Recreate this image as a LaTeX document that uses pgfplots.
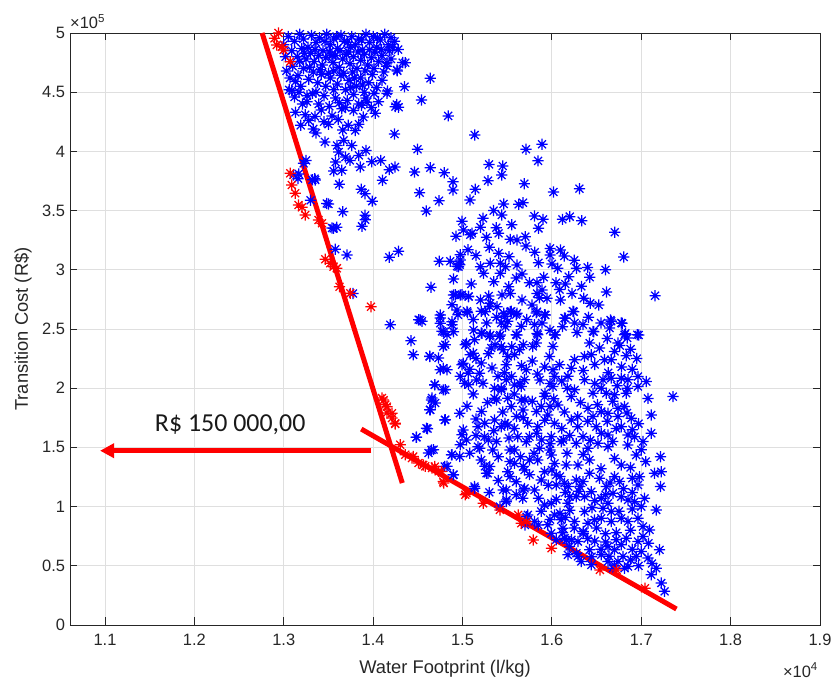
\documentclass[border=0pt]{standalone}
\usepackage{pgfplots}
\pgfplotsset{compat=1.18}
\usepackage{pgfplotstable}
\usetikzlibrary{arrows.meta}
\usepackage{fontspec}
\setmainfont{Liberation Sans}
\newfontfamily\calibri{Carlito}
\definecolor{axgray}{HTML}{262626}
\definecolor{gridgray}{HTML}{DFDFDF}
\definecolor{mblue}{RGB}{0,0,255}
\definecolor{mred}{RGB}{255,0,0}
\pgfdeclareplotmark{mstar}{%
  \pgfpathmoveto{\pgfqpoint{-\pgfplotmarksize}{0pt}}%
  \pgfpathlineto{\pgfqpoint{\pgfplotmarksize}{0pt}}%
  \pgfpathmoveto{\pgfqpoint{0pt}{-\pgfplotmarksize}}%
  \pgfpathlineto{\pgfqpoint{0pt}{\pgfplotmarksize}}%
  \pgfpathmoveto{\pgfqpoint{-0.7071\pgfplotmarksize}{-0.7071\pgfplotmarksize}}%
  \pgfpathlineto{\pgfqpoint{0.7071\pgfplotmarksize}{0.7071\pgfplotmarksize}}%
  \pgfpathmoveto{\pgfqpoint{-0.7071\pgfplotmarksize}{0.7071\pgfplotmarksize}}%
  \pgfpathlineto{\pgfqpoint{0.7071\pgfplotmarksize}{-0.7071\pgfplotmarksize}}%
  \pgfusepathqstroke}

% x in units of 10^4 l/kg, y in units of 10^5 R$
\pgfplotstableread{
x y
1.305 4.97
1.312 4.93
1.318 4.99
1.322 4.95
1.327 4.88
1.331 4.98
1.336 4.92
1.340 4.96
1.344 4.85
1.348 4.99
1.352 4.90
1.356 4.95
1.360 4.87
1.364 4.98
1.368 4.93
1.372 4.84
1.376 4.97
1.380 4.90
1.384 4.95
1.388 4.86
1.392 4.99
1.396 4.92
1.400 4.97
1.404 4.88
1.408 4.94
1.413 4.99
1.417 4.90
1.420 4.96
1.424 4.93
1.300 4.90
1.309 4.85
1.315 4.80
1.320 4.87
1.325 4.78
1.330 4.83
1.334 4.76
1.339 4.81
1.343 4.73
1.347 4.79
1.351 4.84
1.355 4.75
1.358 4.81
1.362 4.71
1.366 4.78
1.370 4.82
1.374 4.74
1.378 4.80
1.382 4.70
1.386 4.77
1.390 4.82
1.394 4.73
1.398 4.79
1.402 4.84
1.406 4.76
1.410 4.81
1.415 4.72
1.420 4.78
1.428 4.86
1.433 4.75
1.427 4.68
1.303 4.68
1.310 4.72
1.316 4.64
1.322 4.70
1.328 4.61
1.333 4.67
1.338 4.58
1.342 4.65
1.347 4.55
1.352 4.62
1.356 4.68
1.360 4.57
1.364 4.64
1.369 4.52
1.373 4.60
1.377 4.67
1.381 4.55
1.386 4.62
1.390 4.50
1.395 4.58
1.399 4.65
1.404 4.54
1.410 4.60
1.416 4.51
1.306 4.52
1.312 4.46
1.319 4.55
1.326 4.42
1.332 4.49
1.339 4.40
1.345 4.47
1.351 4.38
1.358 4.45
1.365 4.36
1.371 4.43
1.378 4.48
1.384 4.40
1.392 4.45
1.398 4.37
1.406 4.42
1.302 4.80
1.307 4.62
1.313 4.59
1.318 4.76
1.323 4.83
1.329 4.71
1.335 4.86
1.341 4.69
1.346 4.93
1.350 4.66
1.354 4.81
1.359 4.97
1.363 4.85
1.367 4.66
1.371 4.92
1.375 4.88
1.379 4.62
1.383 4.84
1.387 4.94
1.391 4.68
1.396 4.86
1.401 4.70
1.405 4.96
1.409 4.86
1.412 4.67
1.418 4.85
1.422 4.88
1.336 4.50
1.342 4.35
1.356 4.52
1.362 4.41
1.375 4.54
1.388 4.56
1.401 4.49
1.321 4.40
1.328 4.26
1.345 4.25
1.361 4.27
1.366 4.18
1.389 4.29
1.4154 4.49
1.4248 4.378
1.4285 4.373
1.4023 4.322
1.424 4.147
1.4352 4.546
1.436 4.749
1.4154 4.749
1.4267 4.688
1.4264 4.396
1.392 4.008
1.3985 3.913
1.4085 3.924
1.418 3.846
1.4245 3.868
1.4104 3.756
1.362 3.722
1.3866 3.68
1.391 3.643
1.399 3.58
1.366 3.49
1.391 3.46
1.348 3.56
1.33 3.587
1.3346 3.77
1.316 3.77
1.325 3.924
1.309 4.514
1.317 4.50
1.326 4.47
1.313 4.33
1.324 4.31
1.335 4.295
1.319 4.22
1.333 4.19
1.336 4.155
1.35 4.23
1.354 4.30
1.369 4.37
1.378 4.345
1.387 4.39
1.393 4.416
1.372 4.22
1.38 4.177
1.384 4.23
1.346 4.08
1.3595 4.05
1.367 4.093
1.3615 3.994
1.376 4.05
1.369 3.952
1.358 3.91
1.374 3.924
1.384 3.966
1.3855 3.868
1.365 3.84
1.3558 3.834
1.332 3.76
1.3167 3.81
1.3109 3.80
1.3221 3.899
1.3352 3.758
1.35 3.556
1.3557 3.35
1.3576 3.173
1.3707 3.125
1.3774 2.80
1.3539 3.353
1.3594 3.359
1.3875 3.367
1.3912 3.423
1.418 3.106
1.4284 3.156
1.4191 2.536
1.4423 2.401
1.4509 2.579
1.4546 2.565
1.4632 2.27
1.4647 2.852
1.474 3.072
1.4863 3.072
1.4927 3.283
1.4994 3.41
1.49 2.922
1.4938 3.03
1.4975 3.128
1.4968 3.043
1.5061 3.17
1.5087 3.296
1.4882 2.705
1.4919 2.79
1.4994 2.79
1.5068 2.776
1.505 2.649
1.4751 2.593
1.477 2.48
1.4826 2.452
1.4882 2.536
1.4807 2.367
1.4732 2.255
1.4826 2.156
1.4751 2.156
1.5031 2.367
1.5087 2.283
1.4994 2.198
1.4975 2.10
1.5068 2.03
1.4688 2.03
1.4807 1.987
1.4658 1.917
1.4695 1.875
1.505 1.847
1.464 4.617
1.454 4.434
1.484 4.30
1.5136 4.139
1.4497 4.018
1.571 4.018
1.589 4.06
1.5845 3.92
1.5297 3.89
1.545 3.877
1.5438 3.80
1.5285 3.753
1.464 3.862
1.4464 3.826
1.4796 3.82
1.4894 3.744
1.4894 3.674
1.5143 3.68
1.5084 3.59
1.5692 3.727
1.6017 3.657
1.6308 3.685
1.452 3.651
1.4737 3.584
1.4595 3.497
1.5348 3.50
1.546 3.556
1.544 3.463
1.5628 3.553
1.5677 3.567
1.523 3.435
1.5804 3.454
1.5901 3.426
1.6118 3.426
1.62 3.449
1.6334 3.415
1.6703 3.317
1.6804 3.108
1.7155 2.781
1.5012 3.336
1.5106 3.308
1.5267 3.274
1.5378 3.356
1.5404 3.308
1.5535 3.257
1.561 3.252
1.5703 3.28
1.4975 3.083
1.4956 3.026
1.520 3.026
1.5236 2.97
1.531 3.055
1.5404 3.14
1.5423 3.055
1.548 3.026
1.5423 2.97
1.561 3.04
1.5666 2.965
1.5808 3.148
1.598 3.18
1.598 3.125
1.6095 3.167
1.6139 3.117
1.6065 3.013
1.6274 3.013
1.6188 2.942
1.6423 2.937
1.5098 2.88
1.5834 2.891
1.5908 2.937
1.6047 2.891
1.661 2.812
1.49 2.787
1.4975 2.787
1.5068 2.773
1.4938 2.66
1.5057 2.638
1.52 2.745
1.5293 2.779
1.531 2.717
1.5255 2.646
1.5442 2.787
1.5535 2.80
1.5516 2.857
1.5386 2.688
1.546 2.633
1.5535 2.646
1.561 2.633
1.5666 2.745
1.5778 2.703
1.5834 2.646
1.5927 2.618
1.5834 2.80
1.589 2.829
1.5946 2.759
1.6095 2.745
1.6226 2.80
1.6356 2.759
1.643 2.717
1.6524 2.703
1.4527 2.576
1.4751 2.618
1.4751 2.548
1.4882 2.562
1.4789 2.477
1.49 2.477
1.5124 2.491
1.5218 2.463
1.531 2.449
1.5423 2.449
1.561 2.449
1.5834 2.463
1.6039 2.449
1.6151 2.59
1.6244 2.646
1.6468 2.477
1.6655 2.576
1.6786 2.548
1.6823 2.463
1.6972 2.449
1.5862 2.763
1.6086 2.833
1.547 2.607
1.5545 2.65
1.56 2.621
1.5433 2.55
1.5507 2.565
1.5657 2.523
1.5209 2.65
1.5302 2.692
1.5825 2.636
1.5918 2.621
1.5806 2.537
1.5843 2.452
1.5787 2.353
1.5825 2.381
1.56 2.452
1.603 2.452
1.6011 2.353
1.6142 2.593
1.6235 2.65
1.6254 2.551
1.6347 2.537
1.6459 2.48
1.6422 2.381
1.6534 2.339
1.6664 2.565
1.6776 2.551
1.6646 2.508
1.6813 2.452
1.6843 2.424
1.6955 2.452
1.6739 2.381
1.6701 2.311
1.6832 2.274
1.6664 2.24
1.5209 2.466
1.5302 2.438
1.5414 2.438
1.5321 2.339
1.5433 2.353
1.5134 2.41
1.5507 2.268
1.5582 2.282
1.5638 2.325
1.5489 2.198
1.5974 2.268
1.6086 2.198
1.6011 2.155
1.6216 2.169
1.6254 2.24
1.6366 2.268
1.6441 2.282
1.659 2.24
1.5209 2.212
1.519 2.127
1.5228 2.042
1.5396 2.099
1.5489 2.071
1.5713 2.155
1.5694 2.071
1.5657 2.014
1.5582 2.028
1.5433 2.0
1.5358 2.0
1.603 2.099
1.6011 2.014
1.6172 2.0
1.6254 1.986
1.6366 2.071
1.6459 1.958
1.6571 2.071
1.6664 2.085
1.6776 2.085
1.6851 2.071
1.6963 2.099
1.7057 2.056
1.6608 1.958
1.6701 1.944
1.6832 1.958
1.6843 2.0
1.6552 2.0
1.6963 2.014
1.7075 1.914
1.7354 1.929
1.7112 1.774
1.7112 1.619
1.5358 1.915
1.5507 1.915
1.5545 1.845
1.5676 1.816
1.5657 1.901
1.5918 1.929
1.588 1.845
1.5955 1.774
1.6067 1.859
1.6216 1.929
1.6403 1.83
1.6459 1.76
1.6552 1.802
1.6627 1.788
1.6739 1.83
1.6813 1.845
1.6739 1.76
1.6888 1.746
1.5358 1.732
1.5433 1.675
1.5507 1.689
1.5731 1.703
1.5843 1.675
1.603 1.703
1.5993 1.59
1.6216 1.732
1.629 1.675
1.6347 1.59
1.629 1.76
1.6496 1.675
1.6552 1.619
1.6627 1.605
1.6776 1.675
1.6851 1.605
1.5172 1.675
1.5246 1.59
1.5619 1.59
1.575 1.59
1.6925 1.59
1.5172 1.506
1.5339 1.478
1.5582 1.478
1.5713 1.548
1.5862 1.492
1.6104 1.548
1.6272 1.534
1.6403 1.492
1.6515 1.534
1.6627 1.506
1.6944 1.435
1.7216 1.421
1.7224 1.295
1.7149 1.281
1.6981 1.253
1.6963 1.183
1.7216 1.169
1.7037 1.07
1.7168 0.972
1.7205 0.635
1.7168 0.48
1.7112 0.424
1.7224 0.354
1.7261 0.284
1.5209 1.393
1.5284 1.281
1.5134 1.169
1.5507 1.295
1.5582 1.365
1.5694 1.309
1.575 1.393
1.5843 1.393
1.5993 1.435
1.603 1.365
1.616 1.351
1.6291 1.351
1.642 1.393
1.6701 1.407
1.6776 1.351
1.5918 1.295
1.588 1.225
1.6049 1.267
1.6049 1.183
1.6142 1.197
1.6272 1.225
1.6347 1.211
1.6422 1.281
1.6534 1.239
1.6609 1.169
1.6701 1.253
1.6757 1.211
1.6683 1.112
1.6851 1.056
1.5489 1.14
1.5694 1.154
1.5806 1.14
1.5675 1.07
1.5489 1.042
1.5918 1.014
1.5993 1.028
1.6179 1.028
1.6272 1.084
1.6366 1.084
1.6441 1.126
1.6552 1.07
1.6627 1.028
1.6776 1.084
1.6925 1.042
1.6571 0.986
1.6664 0.958
1.5731 0.93
1.5806 0.874
1.5955 0.846
1.603 0.93
1.6104 0.888
1.6123 0.817
1.6254 0.874
1.6366 0.958
1.6403 0.86
1.6478 0.888
1.6552 0.902
1.6664 0.874
1.6776 0.902
1.6851 0.874
1.6963 0.902
1.7019 0.831
1.7093 0.803
1.7019 0.747
1.6963 0.705
1.5993 0.775
1.6142 0.733
1.6198 0.663
1.6179 0.593
1.6291 0.705
1.6328 0.536
1.6422 0.635
1.6441 0.508
1.6552 0.593
1.6627 0.663
1.6701 0.635
1.6776 0.677
1.6795 0.579
1.6851 0.494
1.6832 0.733
1.6944 0.579
1.7075 0.565
1.6291 0.579
1.6627 0.536
1.6739 0.536
1.6683 0.48
1.6813 0.48
1.4634 2.268
1.4784 2.169
1.4784 1.986
1.469 2.028
1.4653 1.901
1.4634 1.817
1.4802 1.732
1.4597 1.662
1.4485 1.586
1.4653 1.479
1.4877 1.437
1.4802 1.338
1.4896 1.268
1.5138 1.155
1.5007 2.211
1.5063 2.127
1.5026 2.042
1.5157 2.07
1.497 1.789
1.5007 1.648
1.5045 1.563
1.5082 1.451
1.497 1.423
1.5213 1.803
1.525 1.704
1.5287 1.563
1.5194 1.493
1.5306 1.338
1.5269 1.282
1.5455 1.141
1.5493 1.056
1.553 1.479
1.553 1.38
1.5679 1.338
1.5679 1.141
1.5716 0.915
1.5698 0.845
1.5847 0.845
1.5418 1.0
1.553 1.254
1.5474 1.704
1.5604 1.761
1.5381 1.901
1.5437 1.986
1.5362 2.366
1.5045 2.38
1.5119 2.296
1.4448 2.282
1.4784 2.352
1.5455 2.324
1.5679 2.366
1.5549 2.099
1.5642 2.042
1.5866 2.07
1.5698 1.901
1.5922 1.958
1.5978 1.845
1.5828 1.803
1.5884 1.563
1.5978 1.479
1.6127 1.563
1.609 1.254
1.6183 1.169
1.6201 1.085
1.6313 1.169
1.6164 0.718
1.6276 0.606
1.6351 0.775
1.609 0.944
1.6444 0.577
1.4483 1.585
1.4609 1.658
1.4807 1.734
1.4676 1.481
1.462 1.453
1.4882 1.438
1.4826 1.34
1.49 1.27
1.4994 1.607
1.4975 1.523
1.464 1.818
1.495 2.62
1.512 2.58
1.527 2.55
1.538 2.60
1.548 2.52
1.572 2.58
1.589 2.55
1.598 2.49
1.612 2.52
1.628 2.47
1.641 2.60
1.655 2.55
1.662 2.42
1.676 2.36
1.688 2.33
1.695 2.25
1.648 2.20
1.635 2.15
1.618 2.10
1.592 2.18
1.578 2.23
1.566 2.19
1.555 2.35
1.529 2.29
1.515 2.25
1.508 2.16
1.533 2.17
1.547 2.13
1.584 2.12
1.598 2.04
1.611 2.06
1.648 2.04
1.663 2.13
1.678 2.18
1.690 2.16
1.673 2.02
1.512 1.95
1.528 1.88
1.545 1.80
1.558 1.95
1.578 1.89
1.602 1.91
1.614 1.80
1.632 1.88
1.651 1.86
1.668 1.89
1.684 1.79
1.697 1.70
1.690 1.65
1.702 1.55
1.515 1.74
1.535 1.64
1.558 1.66
1.568 1.75
1.592 1.73
1.611 1.66
1.640 1.72
1.662 1.72
1.672 1.66
1.515 1.60
1.538 1.55
1.552 1.58
1.583 1.62
1.598 1.53
1.620 1.60
1.643 1.56
1.668 1.55
1.685 1.52
1.700 1.48
1.705 1.38
1.688 1.33
1.690 1.24
1.680 1.15
1.665 1.20
1.655 1.32
1.635 1.44
1.617 1.45
1.600 1.31
1.580 1.45
1.565 1.42
1.540 1.42
1.525 1.34
1.540 1.22
1.560 1.21
1.575 1.27
1.596 1.18
1.615 1.12
1.630 1.13
1.648 1.05
1.660 1.10
1.690 1.12
1.700 1.00
1.530 1.12
1.560 1.10
1.585 1.07
1.605 1.06
1.620 0.97
1.645 0.99
1.675 0.96
1.690 0.98
1.588 0.96
1.598 0.89
1.615 0.91
1.625 0.82
1.635 0.79
1.650 0.82
1.660 0.77
1.672 0.78
1.688 0.80
1.648 0.71
1.660 0.70
1.672 0.72
1.690 0.64
1.700 0.62
1.708 0.69
1.655 0.64
1.664 0.58
1.688 0.55
1.670 0.50
1.697 0.50
1.712 0.52
1.640 0.73
1.612 0.78
1.605 0.72
1.622 0.72
1.515 3.12
1.530 3.19
1.552 3.11
1.571 3.20
1.585 3.06
1.575 2.89
1.560 2.93
1.535 2.90
1.600 3.05
1.625 3.08
1.640 3.02
1.660 3.00
1.615 2.88
1.633 2.86
1.520 3.36
1.555 3.38
1.585 3.35
}\bluedata

\pgfplotstableread{
x y
1.2896 4.955
1.2922 4.899
1.2997 4.856
1.3072 4.758
1.294 5.0
1.2979 4.884
1.3072 3.815
1.309 3.716
1.3128 3.646
1.3165 3.547
1.3203 3.528
1.324 3.463
1.3389 3.42
1.3427 3.393
1.3464 3.089
1.352 3.055
1.3557 3.026
1.3594 3.013
1.3624 2.857
1.3744 2.801
1.3975 2.688
1.4117 1.90
1.4154 1.844
1.421 1.788
1.4247 1.703
1.4098 1.917
1.4136 1.861
1.4154 1.791
1.421 1.748
1.4247 1.698
1.4303 1.523
1.436 1.438
1.4434 1.41
1.4508 1.368
1.4583 1.340
1.4658 1.326
1.4732 1.298
1.4789 1.199
1.5031 1.10
1.4448 1.423
1.456 1.352
1.469 1.338
1.4765 1.296
1.4784 1.211
1.5045 1.113
1.5231 1.028
1.5418 0.972
1.5623 0.93
1.5716 0.873
1.5657 0.86
1.5791 0.718
1.5996 0.648
1.6537 0.465
1.6724 0.465
1.7041 0.31
}\reddata

\begin{document}
\begin{tikzpicture}
\useasboundingbox (-70bp,-54bp) rectangle (761bp,625bp);
\begin{axis}[
  at={(0,0)}, anchor=south west,
  scale only axis, width=750bp, height=592bp,
  xmin=1.0608, xmax=1.9, ymin=0, ymax=5,
  xtick={1.1,1.2,1.3,1.4,1.5,1.6,1.7,1.8,1.9},
  ytick={0,0.5,1,1.5,2,2.5,3,3.5,4,4.5,5},
  scaled ticks=false,
  xtick pos=both, ytick pos=both,
  xticklabel pos=lower, yticklabel pos=left,
  tick align=inside, major tick length=7.5bp,
  grid=major,
  major grid style={draw=gridgray, line width=0.8bp},
  axis line style={draw=axgray, line width=0.9bp},
  tick style={draw=axgray, line width=0.9bp},
  /pgf/number format/assume math mode=true,
  ticklabel style={font=\fontsize{16.5}{19}\selectfont, text=axgray},
  xticklabel style={yshift=-6bp},
  yticklabel style={xshift=-1.5bp},
  label style={font=\fontsize{18.4}{22}\selectfont, text=axgray},
  xlabel={Water Footprint (l/kg)},
  ylabel={Transition Cost (R\$)},
  xlabel style={at={(axis description cs:0.5,-0.0811)}, anchor=base},
  ylabel style={at={(axis description cs:-0.056,0.5)}, anchor=base},
  clip=true,
]
\addplot[only marks, mark=mstar, mark size=5.6bp, draw=mblue, line width=1.25bp] table[x=x,y=y] {\bluedata};
\addplot[only marks, mark=mstar, mark size=5.6bp, draw=mred, line width=1.25bp] table[x=x,y=y] {\reddata};
\addplot[mred, line width=5bp, no marks] coordinates {(1.2758,5.0) (1.4326,1.199)};
\addplot[mred, line width=5bp, no marks] coordinates {(1.3867,1.655) (1.7394,0.135)};
\draw[mred, line width=5bp, -{Triangle[length=14bp,width=14bp]}] (axis cs:1.3979,1.472) -- (axis cs:1.0944,1.472);
\node[font=\calibri\fontsize{26}{30}\selectfont, anchor=base, text=black!90] at (axis cs:1.24,1.633) {R\$ 150 000,00};
\end{axis}
\node[anchor=base west, font=\fontsize{16.5}{19}\selectfont, text=axgray, inner sep=0pt] at (0bp,596bp) {×10\textsuperscript{5}};
\node[anchor=base east, font=\fontsize{16.5}{19}\selectfont, text=axgray, inner sep=0pt] at (748bp,-52bp) {×10\textsuperscript{4}};
\end{tikzpicture}
\end{document}
